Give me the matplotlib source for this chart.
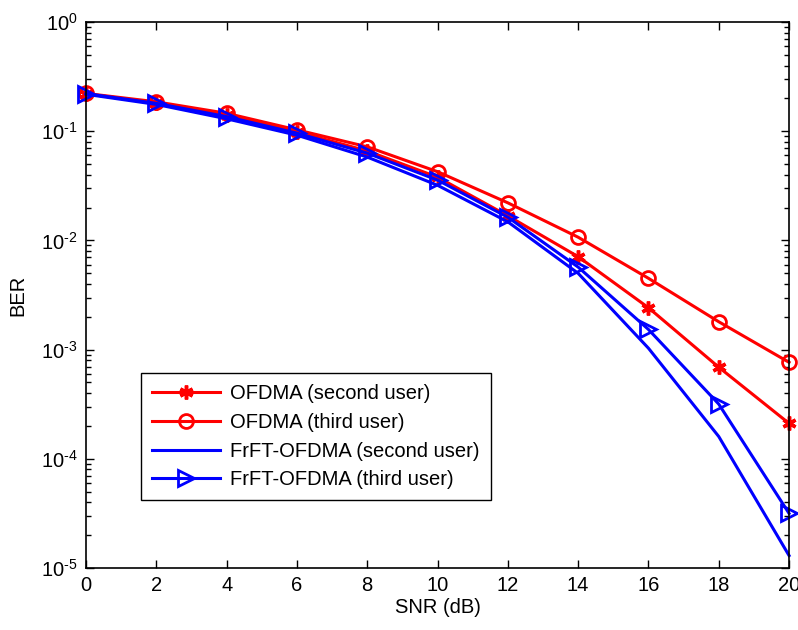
import matplotlib
matplotlib.use("Agg")
import matplotlib.pyplot as plt
from matplotlib.ticker import FuncFormatter
import numpy as np

plt.rcParams['font.family'] = ['Liberation Sans', 'DejaVu Sans']
plt.rcParams['mathtext.fontset'] = 'custom'
plt.rcParams['mathtext.rm'] = 'Liberation Sans'
plt.rcParams['mathtext.it'] = 'Liberation Sans'
plt.rcParams['mathtext.default'] = 'regular'

snr = [0, 2, 4, 6, 8, 10, 12, 14, 16, 18, 20]

ofdma_second = [0.220, 0.182, 0.140, 0.099, 0.066, 0.038, 0.0168, 0.0071, 0.00242, 0.00069, 0.000211]
ofdma_third = [0.222, 0.186, 0.146, 0.103, 0.072, 0.0426, 0.0221, 0.0107, 0.0045, 0.0018, 0.000765]
frft_second = [0.218, 0.176, 0.130, 0.092, 0.058, 0.032, 0.0148, 0.0050, 0.00103, 0.00016, 0.000013]
frft_third = [0.221, 0.180, 0.136, 0.096, 0.063, 0.0357, 0.0163, 0.0057, 0.00153, 0.000317, 0.0000316]

labels = ['OFDMA (second user)', 'OFDMA (third user)',
          'FrFT-OFDMA (second user)', 'FrFT-OFDMA (third user)']

fs = 14.5

fig = plt.figure(figsize=(7.98, 6.30), dpi=100)
ax = fig.add_axes([0.1078, 0.0984, 0.881, 0.8666])

lw = 2.2
ax.semilogy(snr, ofdma_second, color='red', lw=lw, marker=(6, 2, 0), ms=10, mew=2.5,
            clip_on=False, label=labels[0])
ax.semilogy(snr, ofdma_third, color='red', lw=lw, marker='o', ms=10, mew=2,
            mfc='none', clip_on=False, label=labels[1])
ax.semilogy(snr, frft_second, color='blue', lw=lw, clip_on=False, label=labels[2])
ax.semilogy(snr, frft_third, color='blue', lw=lw, marker='>', ms=12, mew=2,
            mfc='none', clip_on=False, label=labels[3])

ax.set_xlim(0, 20)
ax.set_ylim(1e-5, 1)
ax.set_xticks(np.arange(0, 21, 2))
ax.set_yticks([1e-5, 1e-4, 1e-3, 1e-2, 1e-1, 1])
ax.yaxis.set_major_formatter(FuncFormatter(
    lambda v, p: r'$10^{\text{%d}}$' % round(np.log10(v))))
ax.tick_params(which='both', direction='in', top=True, right=True, labelsize=fs, width=1)
ax.tick_params(which='major', length=6)
ax.tick_params(which='minor', length=3.5)
ax.tick_params(axis='x', pad=6)
ax.tick_params(axis='y', pad=6)
for s in ax.spines.values():
    s.set_linewidth(1.2)

ax.set_xlabel('SNR (dB)', fontsize=fs, labelpad=2)
ax.set_ylabel('BER', fontsize=fs, labelpad=10)

leg = ax.legend(loc='lower left', bbox_to_anchor=(0.078, 0.124), fontsize=fs,
                fancybox=False, edgecolor='black', framealpha=1, handlelength=3.4,
                borderpad=0.55, labelspacing=0.48, handletextpad=0.5, borderaxespad=0)
leg.get_frame().set_linewidth(1.0)

fig.savefig('out.png', dpi=100)
